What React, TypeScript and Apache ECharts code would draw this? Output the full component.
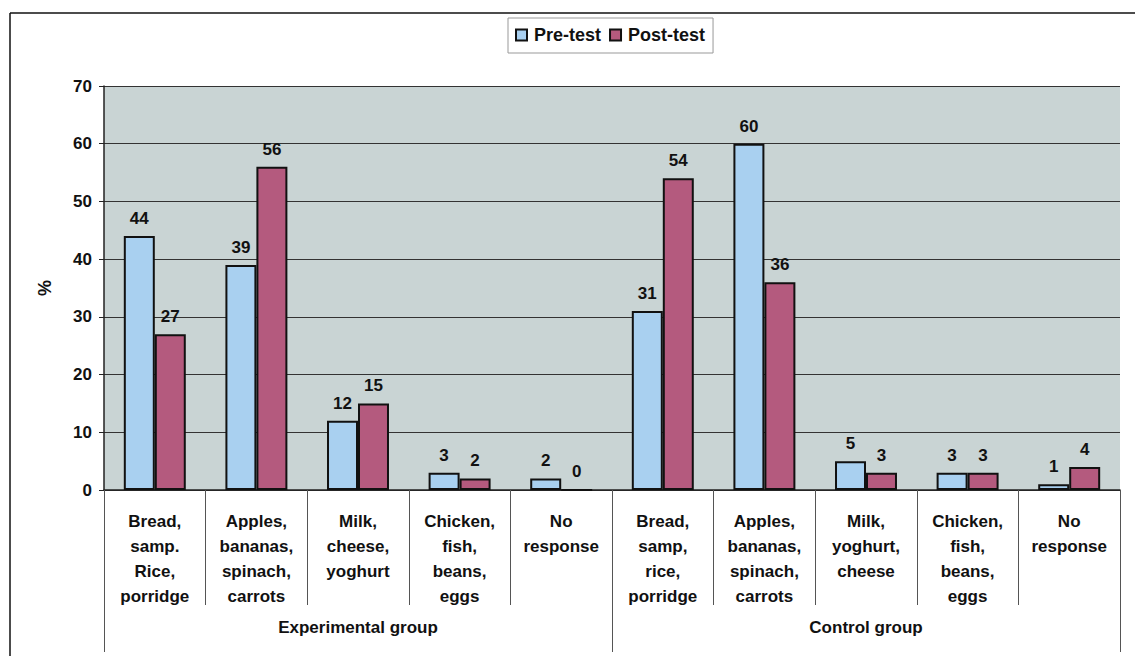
import React, { useEffect, useRef } from "react";
import * as echarts from "echarts";

const categoryKeys = ["e1", "e2", "e3", "e4", "e5", "c1", "c2", "c3", "c4", "c5"];
const categoryLabels = [
  "Bread,\nsamp.\nRice,\nporridge",
  "Apples,\nbananas,\nspinach,\ncarrots",
  "Milk,\ncheese,\nyoghurt",
  "Chicken,\nfish,\nbeans,\neggs",
  "No\nresponse",
  "Bread,\nsamp,\nrice,\nporridge",
  "Apples,\nbananas,\nspinach,\ncarrots",
  "Milk,\nyoghurt,\ncheese",
  "Chicken,\nfish,\nbeans,\neggs",
  "No\nresponse",
];
const groups = ["Experimental group", "Control group"];
const preTest = [44, 39, 12, 3, 2, 31, 60, 5, 3, 1];
const postTest = [27, 56, 15, 2, 0, 54, 36, 3, 3, 4];
const yTicks = [0, 10, 20, 30, 40, 50, 60, 70];

const FONT = "'Liberation Sans', Arial, sans-serif";

export default function App() {
  const ref = useRef<HTMLDivElement>(null);
  useEffect(() => {
    if (!ref.current) return;
    const chart = echarts.init(ref.current, null, { renderer: "svg" });
    const labelStyle = {
      show: true,
      position: "top" as const,
      distance: 9,
      fontFamily: FONT,
      fontWeight: "bold" as const,
      fontSize: 17,
      color: "#111",
    };
    chart.setOption({
      animation: false,
      backgroundColor: "#fff",
      textStyle: { fontFamily: FONT },
      graphic: [
        { type: "line", shape: { x1: 10, y1: 13, x2: 1135, y2: 13 }, style: { stroke: "#111", lineWidth: 1.5 } },
        { type: "line", shape: { x1: 10, y1: 13, x2: 10, y2: 656 }, style: { stroke: "#111", lineWidth: 1.5 } },
      ],
      legend: {
        top: 18,
        left: 508,
        data: ["Pre-test", "Post-test"],
        icon: "rect",
        itemWidth: 11,
        itemHeight: 11,
        itemGap: 8,
        padding: [8, 8, 9, 7],
        borderColor: "#999",
        borderWidth: 1,
        textStyle: { fontFamily: FONT, fontWeight: "bold", fontSize: 18, color: "#111", padding: [0, 0, 0, 2] },
      },
      grid: {
        left: 104,
        right: 15,
        top: 86,
        bottom: 166,
        show: true,
        backgroundColor: "#c9d4d4",
        borderWidth: 0,
      },
      xAxis: [
        {
          type: "category",
          data: categoryKeys,
          position: "bottom",
          axisLine: { show: true, lineStyle: { color: "#222", width: 1.5 } },
          axisTick: { show: true, interval: 0, length: 115, lineStyle: { color: "#555", width: 1 } },
          axisLabel: {
            interval: 0,
            margin: 19,
            formatter: (_v: string, i: number) => categoryLabels[i],
            fontFamily: FONT,
            fontWeight: "bold",
            fontSize: 17,
            lineHeight: 25,
            color: "#111",
            verticalAlign: "top",
          },
          splitLine: { show: false },
        },
        {
          type: "category",
          data: groups,
          position: "bottom",
          axisLine: { show: false },
          axisTick: { show: true, interval: 0, length: 162, lineStyle: { color: "#555", width: 1 } },
          axisLabel: {
            interval: 0,
            margin: 129,
            fontFamily: FONT,
            fontWeight: "bold",
            fontSize: 17,
            color: "#111",
            verticalAlign: "top",
          },
          splitLine: { show: false },
        },
      ],
      yAxis: {
        type: "value",
        min: yTicks[0],
        max: yTicks[yTicks.length - 1],
        interval: 10,
        name: "%",
        nameLocation: "middle",
        nameGap: 50,
        nameRotate: 90,
        nameTextStyle: { fontFamily: FONT, fontWeight: "bold", fontSize: 18, color: "#111" },
        axisLine: { show: true, lineStyle: { color: "#222", width: 1.5 } },
        axisTick: { show: true, length: 5, lineStyle: { color: "#222" } },
        axisLabel: { margin: 12, fontFamily: FONT, fontWeight: "bold", fontSize: 17, color: "#111" },
        splitLine: { show: true, lineStyle: { color: "#333", width: 1 } },
      },
      series: [
        {
          name: "Pre-test",
          type: "bar",
          data: preTest,
          barGap: "0%",
          barCategoryGap: "39%",
          itemStyle: { color: "#a9d0f0", borderColor: "#111", borderWidth: 2 },
          label: labelStyle,
        },
        {
          name: "Post-test",
          type: "bar",
          data: postTest,
          barGap: "0%",
          barCategoryGap: "39%",
          itemStyle: { color: "#b45a7e", borderColor: "#111", borderWidth: 2 },
          label: labelStyle,
        },
      ],
    });
    return () => chart.dispose();
  }, []);
  return <div ref={ref} style={{ width: 1135, height: 656, position: "absolute", left: 0, top: 0 }} />;
}
